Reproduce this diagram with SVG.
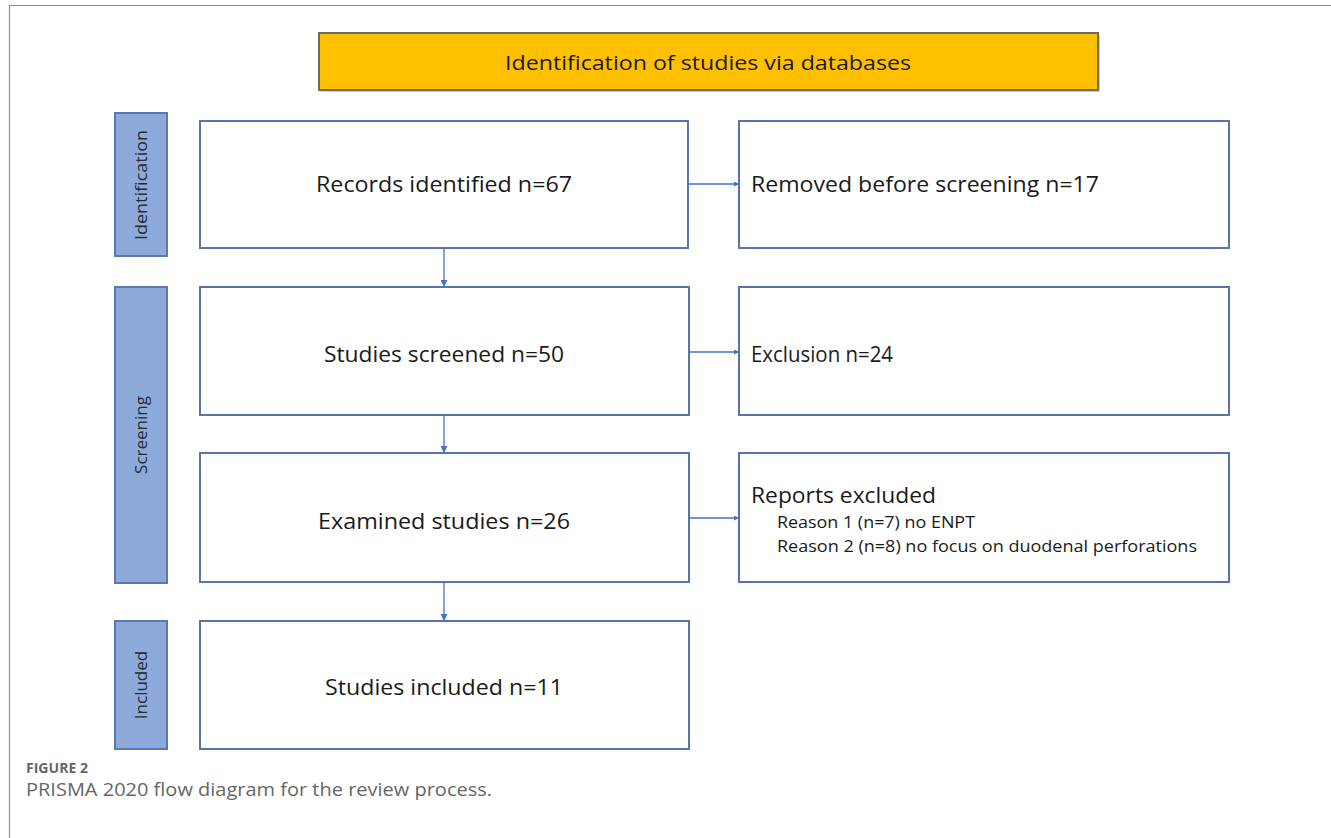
<svg xmlns="http://www.w3.org/2000/svg" width="1331" height="838" viewBox="0 0 1331 838">
<defs>
<marker id="ah" viewBox="0 0 10 10" refX="10" refY="5" markerWidth="5" markerHeight="5" markerUnits="userSpaceOnUse" orient="auto">
<path d="M0,0 L10,5 L0,10 z" fill="#4472c4"/>
</marker>
<marker id="ahv" viewBox="0 0 10 10" refX="10" refY="5" markerWidth="7" markerHeight="7" markerUnits="userSpaceOnUse" orient="auto">
<path d="M0,0 L10,5 L0,10 z" fill="#4472c4"/>
</marker>
<style>
.box{fill:#ffffff;stroke:#5a74ab;stroke-width:2}
.side{fill:#8eaadb;stroke:#5b78b0;stroke-width:2}
.t{font-family:"Open Sans","Liberation Sans",sans-serif;fill:#1a1a1a}
.main{font-size:22px}
.sm{font-size:17px}
.lab{font-size:17px;fill:#262b36}
.con{stroke:#4472c4;stroke-width:1.3;fill:none}
.cap{font-family:"Open Sans","Liberation Sans",sans-serif;fill:#666666}
</style>
</defs>
<rect x="0" y="0" width="1331" height="838" fill="#ffffff"/>
<path d="M9.5,838 L9.5,5.5 L1331,5.5" fill="none" stroke="#8a8a8a" stroke-width="1.2"/>

<g id="header">
<rect x="321" y="35" width="779" height="57" fill="#b0b0b0" opacity="0.6"/>
<rect x="319" y="33" width="779" height="57" fill="#ffc000" stroke="#6e6a5e" stroke-width="2"/>
<text class="t" x="708" y="70" text-anchor="middle" font-size="20" textLength="406" lengthAdjust="spacingAndGlyphs">Identification of studies via databases</text>
</g>

<g id="side-identification">
<rect class="side" x="115" y="113" width="52" height="143"/>
<text class="t lab" transform="translate(147,185) rotate(-90)" text-anchor="middle" textLength="110" lengthAdjust="spacingAndGlyphs">Identification</text>
</g>
<g id="side-screening">
<rect class="side" x="115" y="287" width="52" height="296"/>
<text class="t lab" transform="translate(147,435) rotate(-90)" text-anchor="middle">Screening</text>
</g>
<g id="side-included">
<rect class="side" x="115" y="621" width="52" height="128"/>
<text class="t lab" transform="translate(147,685) rotate(-90)" text-anchor="middle">Included</text>
</g>

<g id="records">
<rect class="box" x="200" y="121" width="488" height="127"/>
<text class="t main" x="444" y="192" text-anchor="middle" textLength="256" lengthAdjust="spacingAndGlyphs">Records identified n=67</text>
</g>
<g id="removed">
<rect class="box" x="739" y="121" width="490" height="127"/>
<text class="t main" x="751" y="192" textLength="348" lengthAdjust="spacingAndGlyphs">Removed before screening n=17</text>
</g>
<g id="screened">
<rect class="box" x="200" y="287" width="489" height="128"/>
<text class="t main" x="444" y="362" text-anchor="middle" textLength="240" lengthAdjust="spacingAndGlyphs">Studies screened n=50</text>
</g>
<g id="exclusion">
<rect class="box" x="739" y="287" width="490" height="128"/>
<text class="t main" x="751" y="362" textLength="142" lengthAdjust="spacingAndGlyphs">Exclusion n=24</text>
</g>
<g id="examined">
<rect class="box" x="200" y="453" width="489" height="129"/>
<text class="t main" x="444" y="529" text-anchor="middle" textLength="252" lengthAdjust="spacingAndGlyphs">Examined studies n=26</text>
</g>
<g id="reports">
<rect class="box" x="739" y="453" width="490" height="129"/>
<text class="t main" x="751" y="503" textLength="185" lengthAdjust="spacingAndGlyphs">Reports excluded</text>
<text class="t sm" x="777" y="528" textLength="198" lengthAdjust="spacingAndGlyphs">Reason 1 (n=7) no ENPT</text>
<text class="t sm" x="777" y="552" textLength="420" lengthAdjust="spacingAndGlyphs">Reason 2 (n=8) no focus on duodenal perforations</text>
</g>
<g id="included">
<rect class="box" x="200" y="621" width="489" height="128"/>
<text class="t main" x="444" y="695" text-anchor="middle" textLength="238" lengthAdjust="spacingAndGlyphs">Studies included n=11</text>
</g>

<g id="connectors">
<line class="con" x1="444" y1="248" x2="444" y2="287" marker-end="url(#ahv)"/>
<line class="con" x1="444" y1="415" x2="444" y2="453" marker-end="url(#ahv)"/>
<line class="con" x1="444" y1="582" x2="444" y2="621" marker-end="url(#ahv)"/>
<line class="con" x1="688" y1="184" x2="739" y2="184" marker-end="url(#ah)"/>
<line class="con" x1="689" y1="352" x2="739" y2="352" marker-end="url(#ah)"/>
<line class="con" x1="689" y1="518" x2="739" y2="518" marker-end="url(#ah)"/>
</g>

<g id="caption">
<text class="cap" x="26" y="773" font-size="14" font-weight="bold" textLength="62" lengthAdjust="spacingAndGlyphs">FIGURE 2</text>
<text class="cap" x="26" y="796" font-size="18" textLength="466" lengthAdjust="spacingAndGlyphs">PRISMA 2020 flow diagram for the review process.</text>
</g>
</svg>
